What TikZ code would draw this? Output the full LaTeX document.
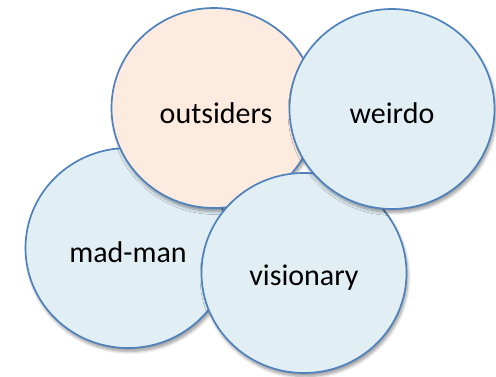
\documentclass[tikz,border=0pt]{standalone}
\usepackage{fontspec}
\setmainfont{Carlito}
\usetikzlibrary{shapes.geometric,shadows.blur}
\definecolor{bluefill}{HTML}{E1EFF5}
\definecolor{peachfill}{HTML}{FDEBDF}
\definecolor{rim}{HTML}{4F81BD}
\tikzset{
  bubble/.style={ellipse, draw=rim, line width=1.7pt, minimum width=205pt, minimum height=200pt, inner sep=0pt,
    blur shadow={shadow xshift=1.5pt, shadow yshift=-3.5pt, shadow blur steps=6, shadow blur radius=3pt, shadow opacity=40}},
  label/.style={font=\fontsize{30}{34}\selectfont, text=black, inner sep=0pt},
}
\begin{document}
\begin{tikzpicture}[x=1pt,y=-1pt]
\useasboundingbox (0,0) rectangle (496,377);
\node[bubble, fill=bluefill] (madman) at (128,248) {};
\node[bubble, fill=peachfill] (outsiders) at (214,108) {};
\node[bubble, fill=bluefill] (visionary) at (304,273) {};
\node[bubble, fill=bluefill] (weirdo) at (392,109) {};
\node[label] (tmad) at (128,252) {mad-man};
\node[label] (tout) at (216,113) {outsiders};
\node[label] (tvis) at (304,278) {visionary};
\node[label] (twei) at (392,113) {weirdo};
\end{tikzpicture}
\end{document}
